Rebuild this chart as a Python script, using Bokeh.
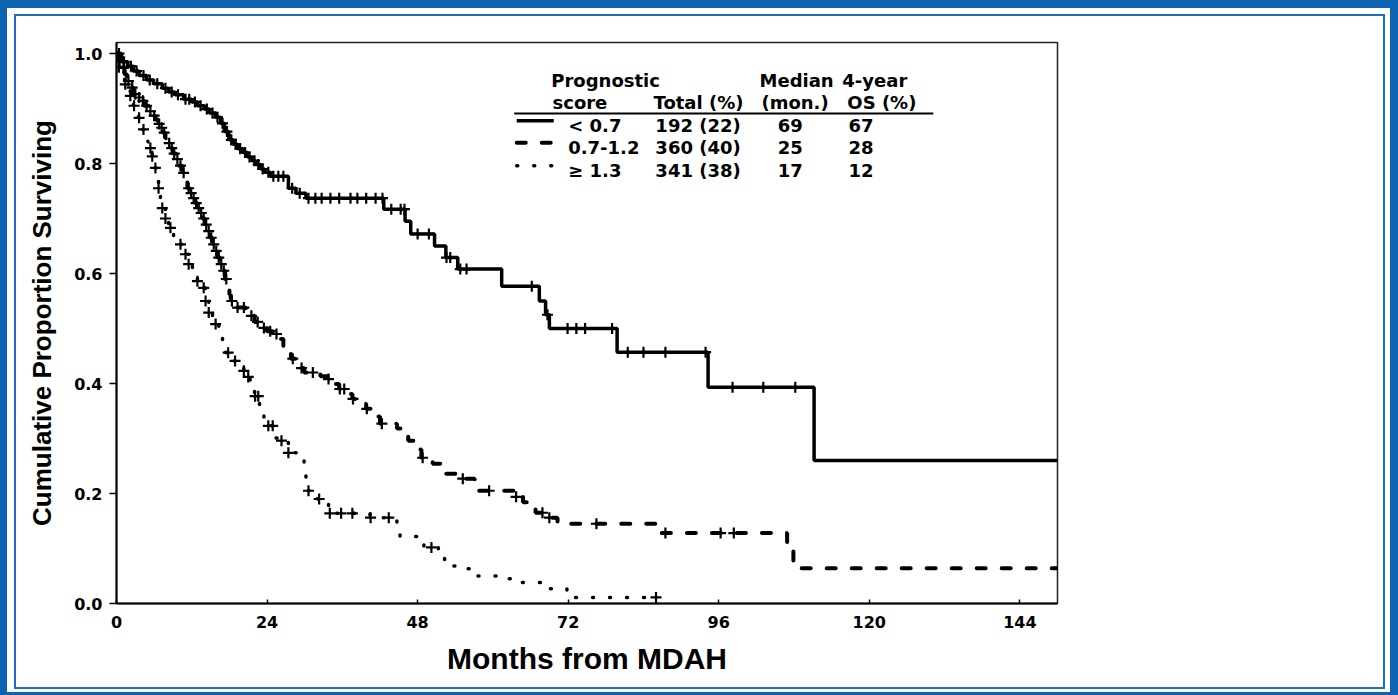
import numpy as np
from bokeh.plotting import figure
from bokeh.models import FixedTicker, Label
from bokeh.embed import file_html
from bokeh.resources import INLINE

# ---------------- data ----------------
# Kaplan-Meier steps: event times (months) and survival after each step
t_low = [0, 0.8, 1.8, 2.7, 3.6, 4.8, 5.9, 7.3, 8.3, 9.3, 10.7, 12.0, 12.9, 14.0, 14.8,
         15.8, 16.6, 17.2, 17.9, 18.6, 19.3, 20.1, 20.9, 21.6, 22.2, 23.0, 23.6, 24.5,
         27.4, 28.6, 30.2, 42.6, 46.0, 46.9, 50.7, 52.5, 54.4, 61.4, 67.4, 68.4, 69.0,
         79.8, 94.3, 111.2, 150]
s_low = [1.0, 0.985, 0.977, 0.968, 0.96, 0.952, 0.945, 0.937, 0.93, 0.925, 0.917, 0.912,
         0.905, 0.899, 0.892, 0.884, 0.873, 0.858, 0.843, 0.835, 0.827, 0.82, 0.812,
         0.805, 0.798, 0.79, 0.784, 0.777, 0.755, 0.746, 0.737, 0.717, 0.695, 0.672,
         0.65, 0.629, 0.608, 0.577, 0.55, 0.525, 0.50, 0.457, 0.393, 0.26, 0.26]
cens_low = [0.4, 1.2, 2.3, 3.2, 4.3, 5.3, 6.5, 7.8, 8.8, 9.8, 11.0, 11.6, 12.5, 13.4, 14.4,
            15.3, 16.1, 16.9, 17.6, 18.3, 19.0, 19.7, 20.5, 21.2, 22.0, 22.6, 23.3, 24.2,
            25.0, 25.8, 26.6, 28.0, 29.2, 30.6, 31.7, 32.7, 34.1, 35.5, 37.3, 38.4, 39.8,
            41.3, 42.4, 43.8, 45.3, 45.9, 48.0, 49.8, 52.6, 53.2, 54.8, 55.8, 66.2, 68.7,
            71.9, 73.3, 74.7, 79.0, 81.5, 84.0, 87.5, 93.9, 98.2, 103.1, 108.2]

t_mid = [0, 0.4, 0.8, 1.3, 1.7, 2.2, 2.7, 3.3, 3.8, 4.4, 5.1, 5.6, 6.2, 6.6, 7.0, 7.4, 7.8,
         8.2, 8.6, 9.0, 9.4, 9.9, 10.5, 10.9, 11.3, 11.7, 12.1, 12.5, 12.9, 13.3, 13.7,
         14.1, 14.5, 14.9, 15.3, 15.7, 16.1, 16.5, 16.9, 17.3, 17.7, 18.0, 18.2, 18.7,
         20.6, 21.0, 22.0, 23.0, 24.0, 25.0, 26.0, 26.6, 27.1, 27.8, 28.5, 29.2, 29.9,
         32.5, 33.7, 34.5, 35.5, 36.6, 37.6, 38.7, 39.8, 41.0, 42.0, 44.7, 46.5, 47.6,
         48.6, 50.4, 52.2, 55.0, 57.1, 63.6, 64.8, 65.7, 66.8, 68.2, 70.3, 86.6, 106.9,
         107.9, 150]
s_mid = [1.0, 0.985, 0.974, 0.962, 0.95, 0.938, 0.926, 0.92, 0.914, 0.905, 0.895, 0.887,
         0.88, 0.872, 0.865, 0.856, 0.846, 0.837, 0.828, 0.818, 0.808, 0.796, 0.783,
         0.769, 0.755, 0.746, 0.737, 0.728, 0.719, 0.71, 0.70, 0.689, 0.677, 0.665,
         0.653, 0.641, 0.629, 0.617, 0.605, 0.59, 0.574, 0.562, 0.55, 0.538, 0.53, 0.523,
         0.512, 0.501, 0.495, 0.49, 0.481, 0.466, 0.454, 0.445, 0.436, 0.428, 0.42,
         0.413, 0.408, 0.399, 0.39, 0.381, 0.372, 0.363, 0.354, 0.34, 0.327, 0.318,
         0.296, 0.28, 0.265, 0.254, 0.236, 0.227, 0.205, 0.194, 0.184, 0.174, 0.165,
         0.156, 0.145, 0.128, 0.096, 0.064, 0.064]
cens_mid = [0.5, 1.1, 1.9, 2.5, 3.0, 3.6, 4.2, 4.8, 5.4, 6.0, 6.8, 7.2, 7.6, 8.4, 8.8, 9.2,
            9.7, 10.2, 10.7, 11.5, 11.9, 12.3, 12.7, 13.1, 13.5, 13.9, 14.3, 14.7, 15.1,
            15.5, 15.9, 16.3, 16.7, 17.1, 17.5, 18.4, 19.3, 20.3, 21.5, 22.5, 23.5, 24.5,
            25.5, 28.1, 29.5, 31.3, 33.8, 35.6, 36.3, 37.7, 39.9, 42.3, 48.8, 55.2, 59.4,
            63.7, 67.9, 69.0, 76.5, 87.5, 96.3, 98.4]

t_high = [0, 0.3, 0.7, 1.0, 1.4, 1.8, 2.2, 2.7, 3.1, 3.5, 3.8, 4.1, 4.6, 5.0, 5.4, 5.7,
          6.0, 6.2, 6.5, 6.7, 7.0, 7.3, 7.8, 8.3, 9.1, 9.7, 10.2, 10.6, 11.0, 11.5, 12.1,
          12.9, 13.7, 14.2, 14.7, 15.3, 15.8, 16.3, 16.9, 17.4, 18.5, 19.4, 20.3, 20.8,
          21.3, 22.0, 22.8, 23.5, 24.2, 25.3, 26.3, 27.4, 28.8, 29.9, 30.2, 30.5, 32.0,
          33.8, 40.4, 44.7, 45.2, 49.0, 51.3, 52.3, 54.0, 57.0, 62.0, 64.5, 68.0, 71.8, 86.0]
s_high = [1.0, 0.975, 0.962, 0.953, 0.944, 0.933, 0.923, 0.905, 0.894, 0.883, 0.872,
          0.862, 0.85, 0.839, 0.828, 0.813, 0.802, 0.792, 0.774, 0.755, 0.737, 0.719,
          0.70, 0.683, 0.665, 0.659, 0.653, 0.644, 0.635, 0.617, 0.599, 0.586, 0.574,
          0.55, 0.529, 0.518, 0.508, 0.49, 0.472, 0.456, 0.441, 0.432, 0.423, 0.412,
          0.401, 0.377, 0.347, 0.335, 0.323, 0.301, 0.296, 0.274, 0.263, 0.245, 0.223,
          0.205, 0.19, 0.164, 0.156, 0.146, 0.122, 0.102, 0.084, 0.068, 0.063, 0.05,
          0.045, 0.038, 0.027, 0.011, 0.011]
cens_high = [0.37, 1.4, 2.2, 2.8, 3.6, 4.3, 5.4, 5.7, 6.2, 6.7, 7.3, 7.8, 8.6, 10.2, 11.0,
             11.5, 12.9, 13.9, 14.2, 14.7, 15.8, 17.8, 18.9, 20.3, 21.0, 22.1, 22.6, 24.2,
             24.9, 26.3, 27.4, 30.6, 32.3, 34.0, 35.8, 37.6, 40.5, 43.4, 50.2, 86.0]

# legend table contents
score_labels = ["< 0.7", "0.7-1.2", "\u2265 1.3"]
totals = [192, 360, 341]
total_pct = [22, 40, 38]
median_months = [69, 25, 17]
os_4year = [67, 28, 12]
header_top = ["Prognostic", "Median", "4-year"]
header_bottom = ["score", "Total (%)", "(mon.)", "OS (%)"]

x_ticks = [0, 24, 48, 72, 96, 120, 144]
y_ticks = [0.0, 0.2, 0.4, 0.6, 0.8, 1.0]
y_tick_labels = ["0.0", "0.2", "0.4", "0.6", "0.8", "1.0"]
x_label = "Months from MDAH"
y_label = "Cumulative Proportion Surviving"

# ---------------- figure ----------------
BLUE = "#0b63b1"
THIN = "#1f6fba"
W = "#ffffff"
p = figure(width=1398, height=695, x_range=(0, 150), y_range=(0, 1.02),
           output_backend="svg", toolbar_location=None,
           min_border_left=116, min_border_right=341, min_border_top=42,
           min_border_bottom=92)
p.border_fill_color = None
p.background_fill_color = "white"
shadows = [
    f"inset 7px 0 0 0 {BLUE}", f"inset -8px 0 0 0 {BLUE}",
    f"inset 0 8px 0 0 {BLUE}", f"inset 0 -3px 0 0 {BLUE}",
    f"inset 14px 0 0 0 {W}", f"inset -13px 0 0 0 {W}",
    f"inset 0 14px 0 0 {W}", f"inset 0 -6px 0 0 {W}",
    f"inset 16px 0 0 0 {THIN}", f"inset -15px 0 0 0 {THIN}",
    f"inset 0 16px 0 0 {THIN}", f"inset 0 -8px 0 0 {THIN}",
]
p.styles = {"background-color": "white", "box-shadow": ", ".join(shadows)}
p.xgrid.visible = False
p.ygrid.visible = False
p.outline_line_color = "#222222"
p.outline_line_width = 1.5

TICK_FONT = "DejaVu Sans"
for ax in (p.xaxis[0], p.yaxis[0]):
    ax.axis_line_width = 2
    ax.axis_line_color = "black"
    ax.major_tick_line_width = 1.5
    ax.major_tick_line_color = "black"
    ax.minor_tick_line_color = None
    ax.major_label_text_font = TICK_FONT
    ax.major_label_text_font_style = "bold"
    ax.major_label_text_font_size = "16px"
    ax.major_label_text_color = "black"
    ax.axis_label_text_font = "Liberation Sans"
    ax.axis_label_text_font_style = "bold"
    ax.axis_label_text_color = "black"

p.xaxis.ticker = FixedTicker(ticks=x_ticks)
p.xaxis.major_tick_in = 4
p.xaxis.major_tick_out = 0
p.xaxis.major_label_standoff = 12
p.xaxis.axis_label = x_label
p.xaxis.axis_label_text_font_size = "30px"
p.xaxis.axis_label_standoff = 11

p.yaxis.ticker = FixedTicker(ticks=y_ticks)
p.yaxis.major_label_overrides = {v: s for v, s in zip(y_ticks, y_tick_labels)}
p.yaxis.major_tick_in = 0
p.yaxis.major_tick_out = 7
p.yaxis.major_label_standoff = 7
p.yaxis.axis_label = y_label
p.yaxis.axis_label_text_font_size = "26px"
p.yaxis.axis_label_standoff = 14

# ---------------- curves ----------------
def surv_at(times, surv, pts):
    times = np.asarray(times)
    surv = np.asarray(surv)
    idx = np.searchsorted(times, np.asarray(pts), side="right") - 1
    return surv[idx]

styles = [
    dict(line_width=3.5),
    dict(line_width=4, line_dash="9 16", line_cap="round"),
    dict(line_width=3.5, line_dash="1 16", line_cap="round"),
]
curves = [(t_low, s_low, cens_low), (t_mid, s_mid, cens_mid), (t_high, s_high, cens_high)]
for (tt, ss, cc), st in zip(curves, styles):
    p.step(tt, ss, mode="after", line_color="black", **st)
    p.scatter(cc, surv_at(tt, ss, cc), marker="cross", size=11, line_width=2.2,
              line_color="black")

# ---------------- legend table ----------------
LF = "DejaVu Sans"
def lab(x, y, text, align="left"):
    p.add_layout(Label(x=x, y=y, text=text, text_font=LF, text_font_style="bold",
                       text_font_size="18px", text_color="black", text_align=align,
                       text_baseline="alphabetic"))

for x, txt in zip([69.3, 102.5, 115.7], header_top):
    lab(x, 0.9505, txt)
for x, txt in zip([69.5, 85.6, 102.8, 116.5], header_bottom):
    lab(x, 0.911, txt)
p.line([63.4, 130.2], [0.891, 0.891], line_color="black", line_width=2)

row_y = [0.8686, 0.8286, 0.7868]
for i in range(3):
    y = row_y[i]
    lab(72.0, y, score_labels[i])
    lab(99.5, y, f"{totals[i]} ({total_pct[i]})", align="right")
    lab(105.4, y, str(median_months[i]))
    lab(116.7, y, str(os_4year[i]))
    p.line([63.8, 69.7], [y + 0.009, y + 0.009], line_color="black", **styles[i])

open("out.html", "w").write(file_html(p, INLINE))
